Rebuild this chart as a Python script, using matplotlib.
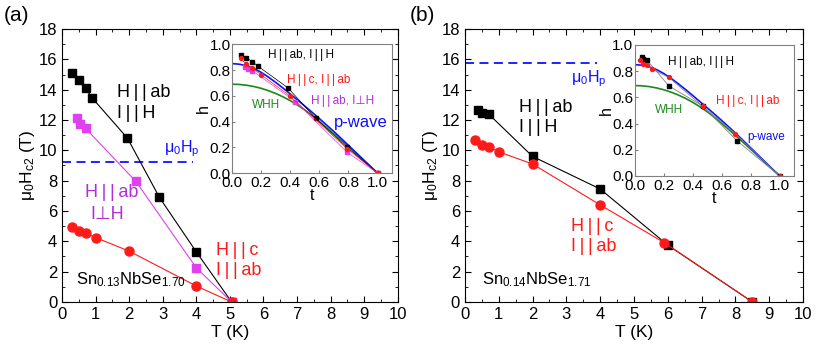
import matplotlib

matplotlib.use("Agg")

import matplotlib.pyplot as plt
from matplotlib.ticker import MultipleLocator

plt.rcParams["font.family"] = ["Liberation Sans", "DejaVu Sans"]
plt.rcParams["mathtext.default"] = "regular"

# ---- panel (a): Sn0.13NbSe1.70 ----
a_ab_T = [0.3, 0.5, 0.7, 0.9, 1.95, 2.9, 4.0, 5.05]
a_ab_H = [15.1, 14.65, 14.1, 13.45, 10.8, 6.9, 3.3, 0.0]
a_perp_T = [0.45, 0.55, 0.7, 2.2, 4.0, 5.05]
a_perp_H = [12.1, 11.75, 11.45, 7.95, 2.25, 0.0]
a_c_T = [0.3, 0.5, 0.7, 1.0, 2.0, 4.0, 5.05]
a_c_H = [4.95, 4.7, 4.55, 4.25, 3.35, 1.05, 0.0]
a_hp = 9.25

a_ab_t = [0.059, 0.099, 0.139, 0.178, 0.386, 0.574, 0.79, 1.0]
a_ab_h = [0.92, 0.895, 0.865, 0.83, 0.66, 0.425, 0.2, 0.0]
a_c_t = [0.059, 0.099, 0.139, 0.198, 0.396, 0.79, 1.0]
a_c_h = [0.89, 0.845, 0.815, 0.765, 0.6, 0.19, 0.0]
a_perp_t = [0.089, 0.109, 0.139, 0.436, 0.792, 1.0]
a_perp_h = [0.825, 0.81, 0.795, 0.555, 0.16, 0.0]

# ---- panel (b): Sn0.14NbSe1.71 ----
b_ab_T = [0.4, 0.5, 0.7, 2.0, 4.0, 6.0, 8.5]
b_ab_H = [12.65, 12.45, 12.4, 9.6, 7.45, 3.75, 0.0]
b_c_T = [0.3, 0.5, 0.7, 1.0, 2.0, 4.0, 5.9, 8.5]
b_c_H = [10.7, 10.35, 10.25, 9.9, 9.1, 6.4, 3.9, 0.0]
b_hp = 15.75

b_ab_t = [0.047, 0.059, 0.082, 0.235, 0.47, 0.706, 1.0]
b_ab_h = [0.905, 0.89, 0.887, 0.687, 0.533, 0.268, 0.0]
b_c_t = [0.035, 0.059, 0.082, 0.118, 0.235, 0.47, 0.694, 1.0]
b_c_h = [0.885, 0.856, 0.848, 0.816, 0.752, 0.531, 0.324, 0.0]

# ---- theory curves ----
curve_t = [0.0, 0.05, 0.1, 0.15, 0.2, 0.25, 0.3, 0.35, 0.4, 0.45, 0.5,
           0.55, 0.6, 0.65, 0.7, 0.75, 0.8, 0.85, 0.9, 0.95, 1.0]
pwave_h = [0.850, 0.845, 0.833, 0.812, 0.782, 0.745, 0.704, 0.660, 0.614, 0.567, 0.520,
           0.472, 0.423, 0.373, 0.322, 0.269, 0.215, 0.161, 0.107, 0.053, 0.0]
whh_h = [0.690, 0.688, 0.682, 0.672, 0.658, 0.640, 0.618, 0.592, 0.562, 0.528, 0.490,
         0.447, 0.401, 0.353, 0.304, 0.254, 0.204, 0.153, 0.102, 0.051, 0.0]

BLACK = "black"
RED = "#ff1a1a"
MAGENTA = "#e040f0"
MAG_TXT = "#b030d8"
BLUE = "#1010ff"
GREEN = "#1a8a1a"

PAR = "\u2009|\u2009|\u2009"   # spaced double bar as in the figure
PERP = "\u22a5"


def style_main(ax):
    ax.set_xlim(0, 10)
    ax.set_ylim(0, 18)
    ax.xaxis.set_major_locator(MultipleLocator(1))
    ax.xaxis.set_minor_locator(MultipleLocator(0.5))
    ax.yaxis.set_major_locator(MultipleLocator(2))
    ax.yaxis.set_minor_locator(MultipleLocator(1))
    ax.tick_params(which="both", direction="in", top=True, right=True, labelsize=12)
    ax.tick_params(which="major", length=4)
    ax.tick_params(which="minor", length=2)
    ax.set_xlabel("T (K)", fontsize=12.5, labelpad=2)
    ax.set_ylabel(r"$\mu_0H_{c2}$ (T)", fontsize=12.5, labelpad=1)


def style_inset(ax):
    ax.set_xlim(0, 1.1)
    ax.set_ylim(0, 1.0)
    ax.xaxis.set_major_locator(MultipleLocator(0.2))
    ax.yaxis.set_major_locator(MultipleLocator(0.2))
    ax.tick_params(direction="in", length=2, labelsize=11, pad=1, color="gray")
    ax.tick_params(axis="x", pad=2)
    for s in ax.spines.values():
        s.set_color("gray")
    ax.set_xlabel("t", fontsize=11.5, labelpad=-1)
    ax.set_ylabel("h", fontsize=11.5, labelpad=-1)
    ax.plot(curve_t, whh_h, color=GREEN, lw=1.2)
    ax.plot(curve_t, pwave_h, color=BLUE, lw=1.2)


fig = plt.figure(figsize=(8.17, 3.54), dpi=100)

# panel (a)
ax = fig.add_axes([0.0759, 0.147, 0.411, 0.771])
style_main(ax)
ax.axhline(a_hp, xmin=0, xmax=0.39, color=BLUE, ls="--", lw=1.3, dashes=(5, 3))
ax.plot(a_ab_T, a_ab_H, color=BLACK, lw=0.8, marker="s", ms=6)
ax.plot(a_perp_T, a_perp_H, color=MAGENTA, lw=0.8, marker="s", ms=6)
ax.plot(a_c_T, a_c_H, color=RED, lw=0.8, marker="o", ms=6.5)
ax.text(1.65, 13.8, "H" + PAR + "ab", fontsize=13, va="center")
ax.text(1.65, 12.4, "I" + PAR + "H", fontsize=13, va="center")
ax.text(0.68, 7.2, "H" + PAR + "ab", fontsize=13, va="center", color=MAG_TXT)
ax.text(0.83, 5.8, "I" + PERP + "H", fontsize=13, va="center", color=MAG_TXT)
ax.text(4.58, 3.4, "H" + PAR + "c", fontsize=13, va="center", color=RED)
ax.text(4.58, 2.05, "I" + PAR + "ab", fontsize=13, va="center", color=RED)
ax.text(3.05, 10.1, r"$\mu_0H_p$", fontsize=11.5, va="center", color=BLUE)
ax.text(0.42, 1.5, r"Sn$_{0.13}$NbSe$_{1.70}$", fontsize=12, va="center")
fig.text(0.005, 0.955, "(a)", fontsize=15, va="center")

ins = fig.add_axes([0.284, 0.511, 0.196, 0.364])
style_inset(ins)
ins.plot(a_ab_t, a_ab_h, color=BLACK, lw=0.5, marker="s", ms=2.5)
ins.plot(a_perp_t, a_perp_h, color=MAGENTA, lw=0.5, marker="s", ms=2.5)
ins.plot(a_c_t, a_c_h, color=RED, lw=0.5, marker="o", ms=2.8)
ins.text(0.25, 0.92, "H" + PAR + "ab, I" + PAR + "H", fontsize=8.5, va="center")
ins.text(0.38, 0.72, "H" + PAR + "c, I" + PAR + "ab", fontsize=8.5, va="center", color=RED)
ins.text(0.54, 0.56, "H" + PAR + "ab, I" + PERP + "H", fontsize=8.5, va="center", color=MAG_TXT)
ins.text(0.14, 0.53, "WHH", fontsize=8.5, va="center", color=GREEN)
ins.text(0.70, 0.39, "p-wave", fontsize=12, va="center", color=BLUE)

# panel (b)
ax = fig.add_axes([0.569, 0.147, 0.414, 0.771])
style_main(ax)
ax.axhline(b_hp, xmin=0, xmax=0.39, color=BLUE, ls="--", lw=1.3, dashes=(5, 3))
ax.plot(b_ab_T, b_ab_H, color=BLACK, lw=0.8, marker="s", ms=6)
ax.plot(b_c_T, b_c_H, color=RED, lw=0.8, marker="o", ms=6.5)
ax.text(1.6, 12.85, "H" + PAR + "ab", fontsize=13, va="center")
ax.text(1.6, 11.5, "I" + PAR + "H", fontsize=13, va="center")
ax.text(3.15, 5.0, "H" + PAR + "c", fontsize=13, va="center", color=RED)
ax.text(3.15, 3.65, "I" + PAR + "ab", fontsize=13, va="center", color=RED)
ax.text(3.15, 14.75, r"$\mu_0H_p$", fontsize=11.5, va="center", color=BLUE)
ax.text(0.5, 1.5, r"Sn$_{0.14}$NbSe$_{1.71}$", fontsize=12, va="center")
fig.text(0.502, 0.955, "(b)", fontsize=15, va="center")

ins = fig.add_axes([0.777, 0.503, 0.195, 0.37])
style_inset(ins)
ins.plot(b_ab_t, b_ab_h, color="gray", lw=0.6)
ins.plot(b_c_t, b_c_h, color="gray", lw=0.6)
ins.plot(b_ab_t, b_ab_h, color=BLACK, lw=0, marker="s", ms=2.5)
ins.plot(b_c_t, b_c_h, color=RED, lw=0, marker="o", ms=2.8)
ins.text(0.23, 0.87, "H" + PAR + "ab, I" + PAR + "H", fontsize=8.5, va="center")
ins.text(0.56, 0.57, "H" + PAR + "c, I" + PAR + "ab", fontsize=8.5, va="center", color=RED)
ins.text(0.14, 0.50, "WHH", fontsize=8.5, va="center", color=GREEN)
ins.text(0.78, 0.30, "p-wave", fontsize=8.5, va="center", color=BLUE)

fig.savefig("out.png", dpi=100)
